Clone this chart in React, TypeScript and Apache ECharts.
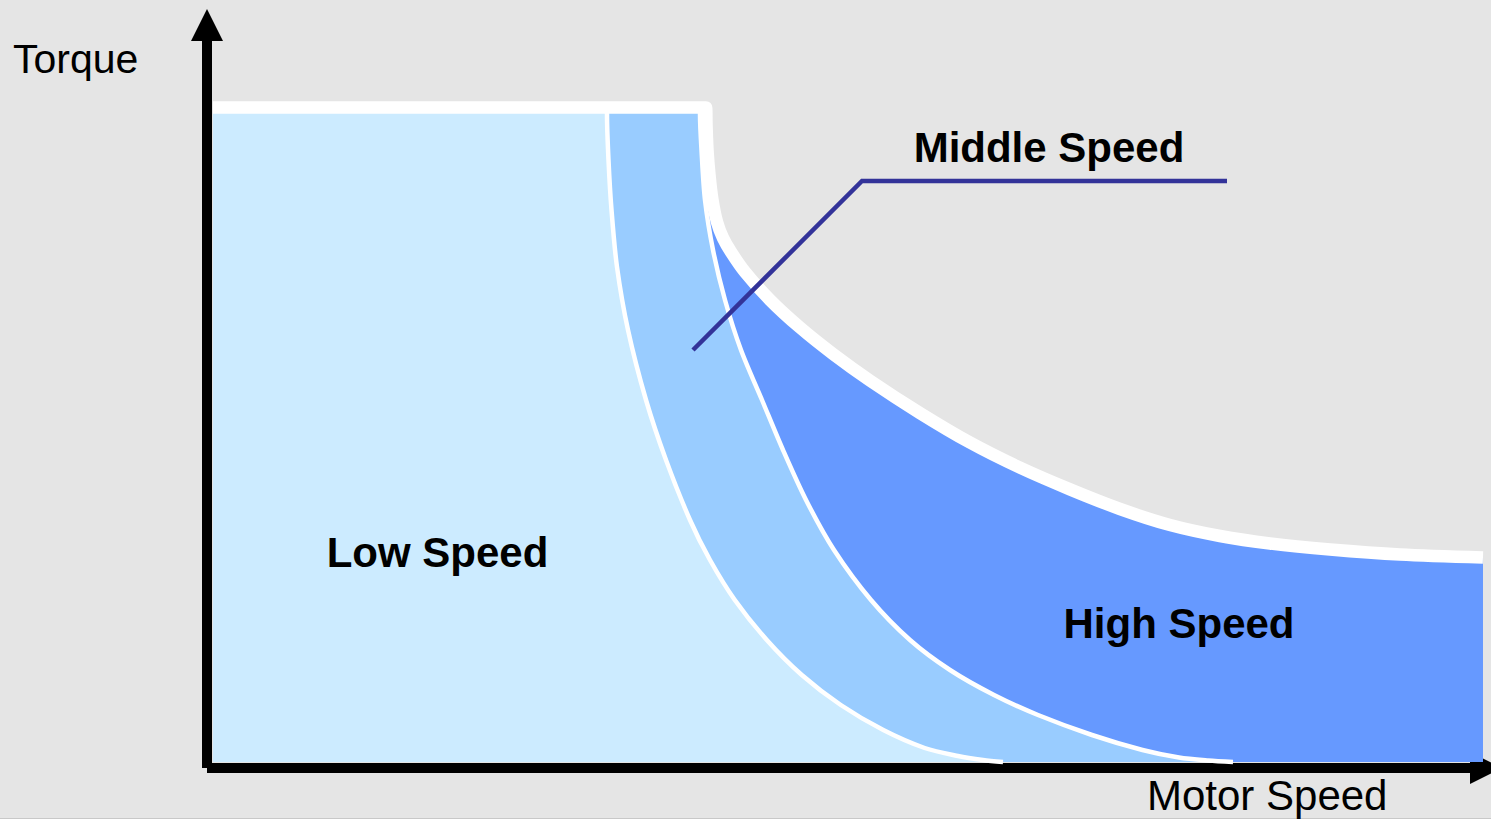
import { useEffect, useRef } from "react";
import * as echarts from "echarts";

// Units: speed and torque in arbitrary units (0 = axis origin)
const envelopeCurve: [number, number][] = [
  [0, 654.5], [493, 654.5], [493.5, 637], [494.5, 612], [496.5, 587], [499.5, 562],
  [504, 540], [510, 524], [518, 510], [532, 490], [557, 462], [587, 434.4],
  [620, 408], [657, 381.4], [707, 348.9], [757, 319.4], [807, 294.3], [857, 272.6],
  [907, 253], [957, 237], [1007, 226], [1057, 218.5], [1117, 212.5], [1187, 207.5],
  [1270, 204.5],
];
const middleCurve: [number, number][] = [
  [0, 654.5], [487, 654.5], [487, 648], [488.5, 612], [492, 562], [500, 512],
  [512, 462], [528, 412], [549, 362], [570, 312], [593, 262], [621, 212],
  [658, 162], [697, 122], [737, 92], [781, 67], [825, 47], [879, 27],
  [929.5, 12], [966, 4.5], [995, 1.5], [1020, 0],
];
const lowCurve: [number, number][] = [
  [0, 654.5], [394, 654.5], [394, 648], [395.5, 602], [398.5, 552], [404, 495],
  [415, 432], [433, 362], [453, 302], [477, 242], [497, 202], [521.8, 162],
  [553.8, 122], [588.8, 87], [627.8, 57], [670.3, 32], [711.7, 14], [745, 6],
  [770, 2], [790, 0],
];

const regionNames = ["High Speed", "Middle Speed", "Low Speed"];
const regionColors = ["#6699ff", "#99ccff", "#ccebff"];
const axisNames = { y: "Torque", x: "Motor Speed" };

const FONT = "'Liberation Sans', Arial, Helvetica, sans-serif";

export default function App() {
  const ref = useRef<HTMLDivElement>(null);
  useEffect(() => {
    if (!ref.current) return;
    const chart = echarts.init(ref.current, undefined, { renderer: "svg" });
    const hiddenAxis = {
      show: false,
      type: "value" as const,
    };
    const arrowAxis = {
      type: "value" as const,
      min: 0,
      max: 1,
      axisLine: {
        show: true,
        onZero: false,
        symbol: ["none", "triangle"],
        symbolSize: [32, 32],
        lineStyle: { color: "#000", width: 10, cap: "butt" },
      },
      axisTick: { show: false },
      axisLabel: { show: false },
      splitLine: { show: false },
    };
    const SMOOTH = 0.3;
    const option: any = {
      animation: false,
      backgroundColor: "#e5e5e5",
      grid: [
        { left: 213, right: 8, top: 107.5, bottom: 57 },
        { left: 207, right: 5, top: 25, bottom: 51 },
      ],
      xAxis: [
        { ...hiddenAxis, gridIndex: 0, min: 0, max: 1270 },
        { ...arrowAxis, gridIndex: 1 },
      ],
      yAxis: [
        { ...hiddenAxis, gridIndex: 0, min: 0, max: 654.5 },
        { ...arrowAxis, gridIndex: 1 },
      ],
      series: [
        {
          name: regionNames[0], type: "line", data: envelopeCurve, symbol: "none",
          smooth: SMOOTH, clip: false, z: 2, silent: true,
          lineStyle: { width: 0 },
          areaStyle: { color: regionColors[0], opacity: 1 },
        },
        {
          name: regionNames[1], type: "line", data: middleCurve, symbol: "none",
          smooth: SMOOTH, clip: false, z: 3, silent: true,
          lineStyle: { color: "#ffffff", width: 4.5 },
          areaStyle: { color: regionColors[1], opacity: 1 },
        },
        {
          name: regionNames[2], type: "line", data: lowCurve, symbol: "none",
          smooth: SMOOTH, clip: false, z: 4, silent: true,
          lineStyle: { color: "#ffffff", width: 4.5 },
          areaStyle: { color: regionColors[2], opacity: 1 },
        },
        {
          name: "Envelope", type: "line", data: envelopeCurve, symbol: "none",
          smooth: SMOOTH, clip: false, z: 5, silent: true,
          lineStyle: { color: "#ffffff", width: 12.5, cap: "butt", join: "round" },
        },
      ],
      graphic: [
        {
          type: "rect", z: 50, silent: true,
          shape: { x: 0, y: 818, width: 1491, height: 1 },
          style: { fill: "#c8c8c8" },
        },
        {
          type: "polyline", z: 60, silent: true,
          shape: { points: [[693, 350], [862, 181], [1227, 181]] },
          style: { stroke: "#333399", lineWidth: 4.5, fill: null },
        },
        {
          type: "text", z: 70, x: 13, y: 59,
          style: { text: axisNames.y, fontSize: 41, fontFamily: FONT, fill: "#000", align: "left", verticalAlign: "middle" },
        },
        {
          type: "text", z: 70, x: 1147, y: 795.5,
          style: { text: axisNames.x, fontSize: 42, fontFamily: FONT, fill: "#000", align: "left", verticalAlign: "middle" },
        },
        {
          type: "text", z: 70, x: 1049, y: 147,
          style: { text: regionNames[1], fontSize: 42, fontWeight: "bold", fontFamily: FONT, fill: "#000", align: "center", verticalAlign: "middle" },
        },
        {
          type: "text", z: 70, x: 437.5, y: 552,
          style: { text: regionNames[2], fontSize: 42, fontWeight: "bold", fontFamily: FONT, fill: "#000", align: "center", verticalAlign: "middle" },
        },
        {
          type: "text", z: 70, x: 1179, y: 623,
          style: { text: regionNames[0], fontSize: 42, fontWeight: "bold", fontFamily: FONT, fill: "#000", align: "center", verticalAlign: "middle" },
        },
      ],
    };
    chart.setOption(option);
    return () => chart.dispose();
  }, []);
  return (
    <div
      ref={ref}
      style={{ position: "fixed", left: 0, top: 0, width: 1491, height: 819 }}
    />
  );
}
